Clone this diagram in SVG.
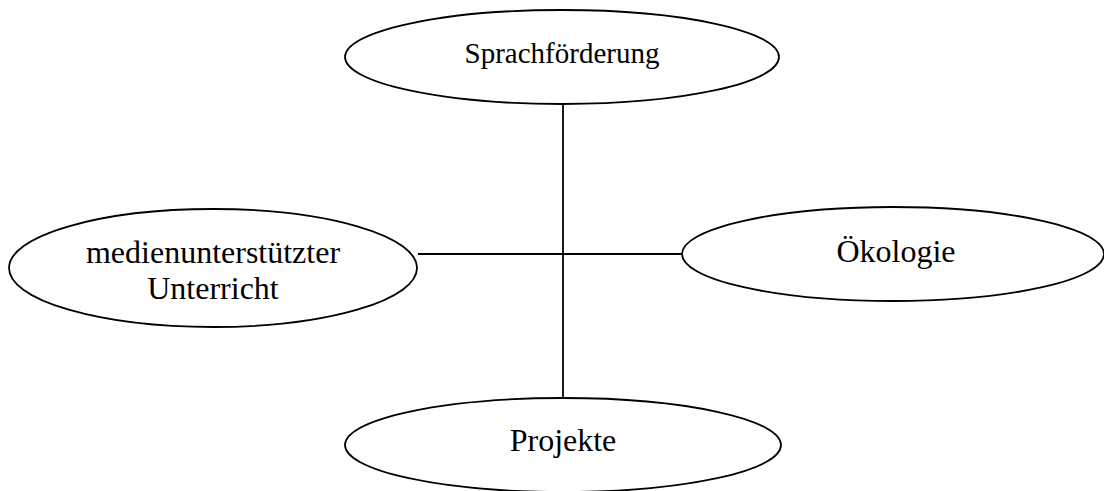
<svg xmlns="http://www.w3.org/2000/svg" width="1104" height="491" viewBox="0 0 1104 491">
<style>
.node ellipse{fill:#fff;stroke:#000;stroke-width:1.8}
.conn line{stroke:#000;stroke-width:1.8}
text{font-family:"Liberation Serif","Times New Roman",serif;fill:#000;text-anchor:middle}
</style>
<rect width="1104" height="491" fill="#fff"/>
<g id="connectors" class="conn">
<line x1="563" y1="105" x2="563" y2="399"/>
<line x1="418" y1="254" x2="682" y2="254"/>
</g>
<g id="sprach" class="node">
<ellipse cx="562" cy="57" rx="217" ry="47"/>
<text x="562" y="63" font-size="29">Sprachförderung</text>
</g>
<g id="medien" class="node">
<ellipse cx="213" cy="268" rx="204" ry="59"/>
<text x="213" y="263" font-size="32">medienunterstützter</text>
<text x="213" y="299" font-size="32">Unterricht</text>
</g>
<g id="oeko" class="node">
<ellipse cx="893" cy="254" rx="211" ry="47"/>
<text x="896" y="262" font-size="32">Ökologie</text>
</g>
<g id="projekte" class="node">
<ellipse cx="563" cy="445" rx="218" ry="47"/>
<text x="563" y="451" font-size="32">Projekte</text>
</g>
</svg>
